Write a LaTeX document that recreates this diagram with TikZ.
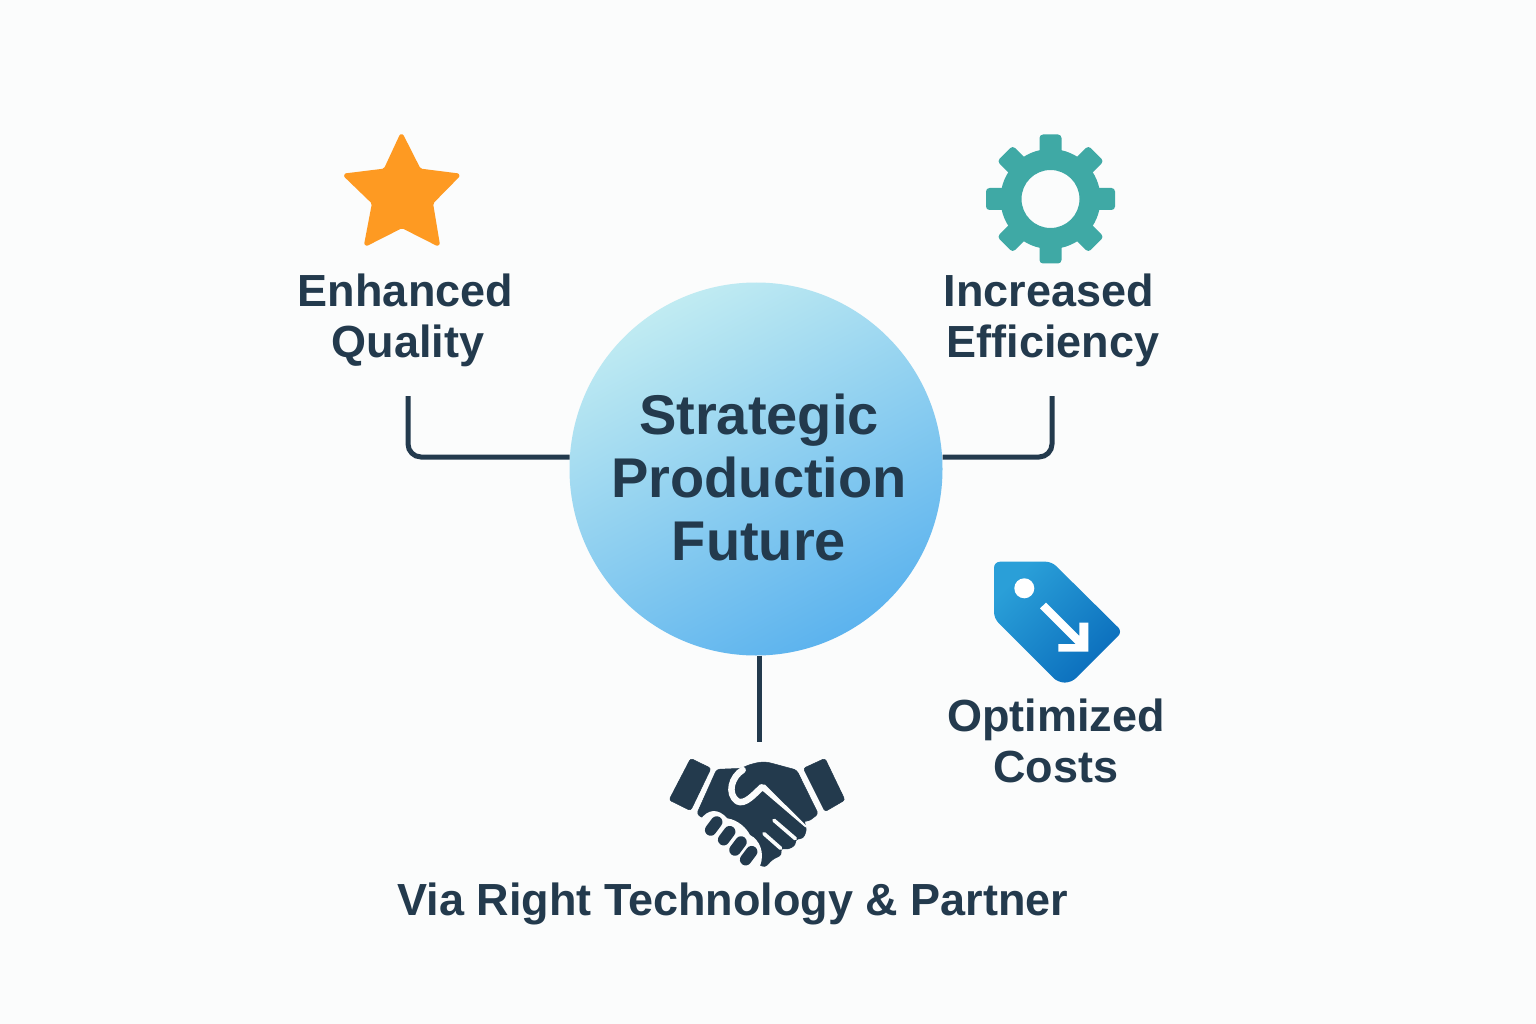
\documentclass[tikz,border=0pt]{standalone}
\usepackage{fontspec}
\setmainfont{Liberation Sans}
\definecolor{bgc}{HTML}{FBFCFC}
\definecolor{ink}{HTML}{233A4D}
\definecolor{starc}{HTML}{FE9A22}
\definecolor{gearc}{HTML}{3FA9A5}
\definecolor{hubA}{HTML}{C0EBF2}
\definecolor{hubB}{HTML}{5CB3EE}
\definecolor{tagA}{HTML}{2A9FD8}
\definecolor{tagB}{HTML}{0A6DBC}
\tikzset{
  x=1pt,y=-1pt,
  label text/.style={text=ink,align=center,inner sep=0,outer sep=0,font=\bfseries\fontsize{45}{51}\selectfont},
  hub text/.style={text=ink,align=center,inner sep=0,outer sep=0,font=\bfseries\fontsize{56}{63}\selectfont},
  link/.style={draw=ink,line width=5pt,rounded corners=13pt},
  hand/.style={fill=ink,draw=ink,line width=0.5pt,line join=round},
  gap/.style={draw=bgc,line cap=round,line join=round,line width=6.5pt}
}
\begin{document}
\begin{tikzpicture}
\useasboundingbox (0,0) rectangle (1536,1024);
\fill[bgc] (0,0) rectangle (1536,1024);
% hub
\node[circle,minimum size=373pt,inner sep=0,outer sep=0,shade,top color=hubA,bottom color=hubB,shading angle=28] (hub) at (756,469) {};
\node[hub text] (hubt) at (759,477) {Strategic\\Production\\Future};
% connectors
\coordinate (lend) at (408,396);
\coordinate (rend) at (1052,396);
\coordinate (bend) at (759,742);
\draw[link] (lend) |- ([yshift=12pt]hub.west);
\draw[link] (rend) |- ([yshift=12pt]hub.east);
\draw[draw=ink,line width=5pt] ([xshift=3pt]hub.south) -- (bend);
% star
\fill[starc,draw=starc,line width=3pt,line join=round,rounded corners=2pt]
 (401.5,134.5) -- (419.5,170) -- (459,175) -- (431.5,203) -- (438.5,245) -- (402,226.5) -- (365.5,245) -- (373.5,203) -- (344.5,175) -- (385,170) -- cycle;
% gear
\begin{scope}[shift={(1050.5,199)}]
  \foreach \a in {0,45,...,315}{
    \fill[gearc,rotate=\a,rounded corners=3.5pt] (-11,-64.5) rectangle (11,-40);
  }
  \fill[gearc,even odd rule] (0,0) circle[radius=50pt] (0,0) circle[radius=29pt];
\end{scope}
% tag
\shade[top color=tagA,bottom color=tagB,shading angle=45,rounded corners=6pt]
 (994,561.7) -- (1051.7,561.7) -- (1122.5,631.7) -- (1071.5,682.5) -- (1058,682.5) -- (994,618.3) -- cycle;
\fill[white] (1024.3,588.3) circle[radius=10pt];
\fill[white] (1046,602.7) -- (1079.3,636) -- (1079.3,622.7) -- (1088.3,622.7) -- (1088.3,651.7) -- (1058.3,651.7) -- (1058.3,644) -- (1075.7,644) -- (1040,608.3) -- cycle;
% handshake
\begin{scope}[shift={(650,740)},scale=1/3]
  \fill[hand,rounded corners=2.5pt] (122,55) -- (183,85) -- (122,212) -- (57,180) -- cycle;
  \fill[hand,rounded corners=2.5pt] (460,85) -- (525,55) -- (585,180) -- (525,215) -- cycle;
  \fill[hand,rounded corners=3pt] (200,88) -- (275,85) .. controls (300,72) and (330,65) .. (355,67) -- (440,90) -- (505,222) -- (474,245) -- (462,240) -- (470,270) -- (460,295) -- (436,298) -- (437,315) -- (415,328) -- (392,325) -- (395,345) -- (368,358) -- (345,382) -- (322,372) -- (290,300) -- (170,235) -- (160,235) -- (140,222) -- cycle;
  \draw[gap] (278,90) .. controls (245,110) and (230,160) .. (262,184) .. controls (285,195) and (310,165) .. (335,142);
  \fill[bgc] (327,135) -- (345,134) -- (470,258) -- (466,262) -- (335,150) -- cycle;
  \draw[gap,line width=3.7pt] (372,241) -- (436,296);
  \draw[gap,line width=3.7pt] (342,281) -- (392,325);
  \fill[bgc] (150,240) .. controls (175,205) and (205,205) .. (232,235) .. controls (265,240) and (290,265) .. (300,285) .. controls (330,300) and (345,340) .. (330,378) -- (250,378) -- (150,290) -- cycle;
  \foreach \cx/\cy in {191/258,230/287,264/318,296/347}{
    \draw[ink,line cap=round,line width=11.5pt] (\cx+9,\cy-12) -- (\cx-9,\cy+12);
  }
\end{scope}
% labels
\node[label text] (q) at (405.5,320) {Enhanced\\\hspace*{5pt}Quality};
\node[label text] (e) at (1049,320) {Increased\\\hspace*{8pt}Efficiency};
\node[label text] (c) at (1056,741) {Optimized\\Costs};
\node[label text] (v) at (733,904) {Via Right Technology \& Partner};
\end{tikzpicture}
\end{document}
